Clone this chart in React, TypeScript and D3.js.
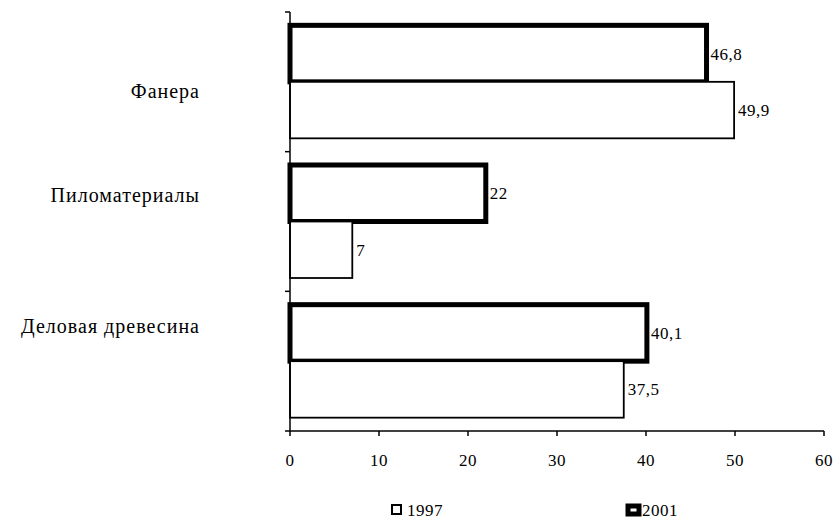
import * as d3 from 'd3';

// категории сверху вниз
const categories = ['Фанера', 'Пиломатериалы', 'Деловая древесина'];
const years = ['2001', '1997'];
const values2001 = [46.8, 22, 40.1];
const values1997 = [49.9, 7, 37.5];
const xTicks = [0, 10, 20, 30, 40, 50, 60];

const W = 836;
const H = 523;
const FONT = '"Liberation Serif", "Times New Roman", "DejaVu Serif", serif';

export default function App() {
  const x = d3.scaleLinear().domain([0, 60]).range([290, 824]);
  const y = d3.scaleBand<string>().domain(categories).range([12, 431]).paddingInner(0).paddingOuter(0);
  const inner = d3.scaleBand<string>().domain(years).range([0, y.bandwidth()]).paddingInner(0).paddingOuter(0.236);

  const fmt = (v: number) => String(v).replace('.', ',');
  // подписи категорий в оригинале смещены неравномерно
  const labelDy = [11, -25, -33];

  const series = [
    { year: '2001', values: values2001, sw: 5 },
    { year: '1997', values: values1997, sw: 1.8 },
  ];

  return (
    <svg width={W} height={H} style={{ position: 'absolute', left: 0, top: 0, background: '#fff', fontFamily: FONT }}>
      {/* бары */}
      {series.map((s) =>
        categories.map((c, i) => {
          const y0 = (y(c) ?? 0) + (inner(s.year) ?? 0);
          const h = inner.bandwidth();
          const x0 = x(0);
          const x1 = x(s.values[i]);
          return (
            <g key={s.year + c}>
              <rect x={x0} y={y0} width={x1 - x0} height={h} fill="#fff" stroke="#000" strokeWidth={s.sw} />
              <text x={x1 + 4} y={y0 + h / 2 + 6} fontSize={17} letterSpacing={0.5} fill="#000">{fmt(s.values[i])}</text>
            </g>
          );
        })
      )}

      {/* ось Y */}
      <line x1={x(0)} x2={x(0)} y1={12} y2={431} stroke="#000" strokeWidth={1.5} />
      {[...categories.map((c) => y(c) ?? 0), 431].map((t, i) => (
        <line key={i} x1={x(0) - 5} x2={x(0)} y1={t} y2={t} stroke="#000" strokeWidth={1.5} />
      ))}
      {categories.map((c, i) => (
        <text key={c} x={200} y={(y(c) ?? 0) + y.bandwidth() / 2 + 5 + labelDy[i]} fontSize={20} letterSpacing={1} textAnchor="end" fill="#000">{c}</text>
      ))}

      {/* ось X */}
      <line x1={x(0)} x2={x(60)} y1={431} y2={431} stroke="#000" strokeWidth={1.5} />
      {xTicks.map((t) => (
        <g key={t}>
          <line x1={x(t)} x2={x(t)} y1={431} y2={436} stroke="#000" strokeWidth={1.5} />
          <text x={x(t)} y={466} fontSize={17} letterSpacing={0.5} textAnchor="middle" fill="#000">{t}</text>
        </g>
      ))}

      {/* легенда */}
      <rect x={392} y={505} width={9} height={9} fill="#fff" stroke="#000" strokeWidth={2} />
      <text x={407} y={516} fontSize={17} letterSpacing={0.5} fill="#000">1997</text>
      <rect x={628} y={506} width={11} height={8} fill="#fff" stroke="#000" strokeWidth={5} />
      <text x={642} y={516} fontSize={17} letterSpacing={0.5} fill="#000">2001</text>
    </svg>
  );
}
